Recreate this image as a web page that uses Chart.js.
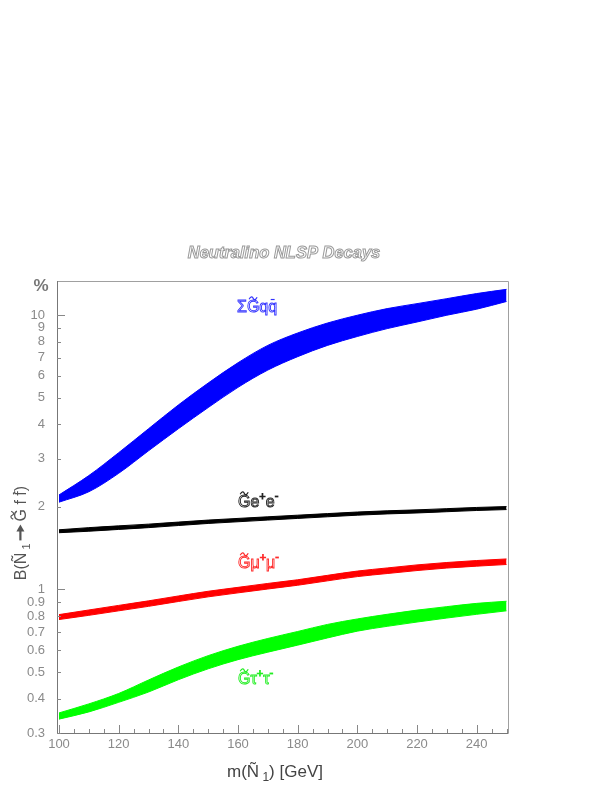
<!DOCTYPE html>
<html>
<head>
<meta charset="utf-8">
<script src="https://cdn.jsdelivr.net/npm/chart.js@4/dist/chart.umd.min.js"></script>
<style>
html,body{margin:0;padding:0;background:#fff;}
canvas{display:block;}
</style>
</head>
<body>
<canvas id="c" width="610" height="790"></canvas>
<script>
// ---- data ----
const massGeV = [100,110,120,130,140,150,160,170,180,190,200,210,220,230,240,250];
// Sum G~ q qbar band (lower / upper edge, %)
const qqLow  = [2.08,2.27,2.65,3.20,3.85,4.60,5.45,6.30,7.05,7.75,8.35,8.92,9.43,9.98,10.50,11.20];
const qqHigh = [2.21,2.60,3.15,3.85,4.70,5.65,6.70,7.75,8.60,9.35,9.98,10.55,11.00,11.47,11.97,12.40];
// G~ e+ e- band
const eeLow  = [1.61,1.63,1.655,1.68,1.71,1.74,1.765,1.79,1.815,1.84,1.865,1.885,1.90,1.92,1.94,1.955];
const eeHigh = [1.65,1.68,1.705,1.73,1.76,1.79,1.815,1.84,1.865,1.89,1.915,1.935,1.95,1.97,1.99,2.005];
// G~ mu+ mu- band
const mmLow  = [0.777,0.805,0.836,0.868,0.904,0.940,0.972,1.004,1.036,1.075,1.114,1.143,1.172,1.197,1.216,1.233];
const mmHigh = [0.810,0.842,0.875,0.909,0.947,0.985,1.018,1.052,1.085,1.126,1.167,1.198,1.229,1.254,1.275,1.292];
// G~ tau+ tau- band
const ttLow  = [0.337,0.358,0.388,0.423,0.469,0.514,0.555,0.591,0.627,0.666,0.705,0.734,0.761,0.787,0.812,0.836];
const ttHigh = [0.355,0.383,0.418,0.468,0.522,0.574,0.621,0.663,0.703,0.746,0.781,0.812,0.841,0.866,0.890,0.906];

// ---- ticks ----
const xTickLabels = [100,120,140,160,180,200,220,240];
const xMinorTicks = [100,105,110,115,120,125,130,135,140,145,150,155,160,165,170,175,180,185,190,195,200,205,210,215,220,225,230,235,240,245,250];
const yTickLabels = [0.3,0.4,0.5,0.6,0.7,0.8,0.9,1,2,3,4,5,6,7,8,9,10];
const yMajorTicks = [1,10];

const FAM = "'Liberation Sans', Arial, 'DejaVu Sans', sans-serif";

function pts(xs, ys){ return xs.map((x,i)=>({x:x, y:ys[i]})); }
function band(low, high, color){
  const common = {borderColor:color, borderWidth:1, pointRadius:0, cubicInterpolationMode:'monotone'};
  return [
    Object.assign({data:pts(massGeV, low), fill:false}, common),
    Object.assign({data:pts(massGeV, high), fill:'-1', backgroundColor:color}, common)
  ];
}

// rich text: parts = [{t, s (size), dy, deco}]
function rich(ctx, x, y, parts, o){
  const style = o.style || '';
  let total = 0;
  const ws = parts.map(p=>{
    if (p.deco === 'arrow') { total += p.w; return p.w; }
    ctx.font = `${style} ${p.s}px ${FAM}`; const w = ctx.measureText(p.t).width; total += w; return w; });
  if (o.align === 'center') x -= total/2;
  ctx.textAlign = 'left'; ctx.textBaseline = 'alphabetic';
  parts.forEach((p,i)=>{
    const yy = y + (p.dy||0);
    if (p.deco === 'arrow'){
      const ay = yy - p.s*0.35, x0 = x + 3, x1 = x + p.w - 3;
      ctx.strokeStyle = o.color; ctx.fillStyle = o.color; ctx.lineWidth = 2.2;
      ctx.beginPath(); ctx.moveTo(x0, ay); ctx.lineTo(x1-5, ay); ctx.stroke();
      ctx.beginPath(); ctx.moveTo(x1, ay); ctx.lineTo(x1-7, ay-4); ctx.lineTo(x1-7, ay+4); ctx.closePath(); ctx.fill();
      x += ws[i];
      return;
    }
    ctx.font = `${style} ${p.s}px ${FAM}`;
    if (o.stroke){ ctx.strokeStyle = o.color; ctx.lineWidth = o.lw || 1; ctx.strokeText(p.t, x, yy); }
    else { ctx.fillStyle = o.color; ctx.fillText(p.t, x, yy); }
    if (p.deco === 'tilde'){
      const w = ws[i]; const cx = x + w/2; const ty = yy - p.s*0.86; const hw = w*0.32;
      ctx.beginPath(); ctx.strokeStyle = o.color; ctx.lineWidth = 1.2;
      ctx.moveTo(cx-hw, ty+1);
      ctx.bezierCurveTo(cx-hw*0.5, ty-3, cx-hw*0.1, ty-1, cx, ty);
      ctx.bezierCurveTo(cx+hw*0.1, ty+1, cx+hw*0.5, ty+3, cx+hw, ty-1);
      ctx.stroke();
    } else if (p.deco === 'bar'){
      const w = ws[i]; const cx = x + w/2; const by = yy - p.s*0.78;
      ctx.beginPath(); ctx.strokeStyle = o.color; ctx.lineWidth = 1.2;
      ctx.moveTo(cx - w*0.22, by); ctx.lineTo(cx + w*0.22, by); ctx.stroke();
    }
    x += ws[i];
  });
}

const decor = {
  id:'decor',
  afterDraw(chart){
    const ctx = chart.ctx, a = chart.chartArea, xs = chart.scales.x, ys = chart.scales.y;
    ctx.save();
    // frame
    ctx.lineWidth = 1;
    ctx.strokeStyle = '#a0a0a0';
    ctx.beginPath();
    ctx.moveTo(a.left, a.top+0.5); ctx.lineTo(a.right+0.5, a.top+0.5); ctx.lineTo(a.right+0.5, a.bottom);
    ctx.stroke();
    ctx.strokeStyle = '#777';
    ctx.beginPath();
    ctx.moveTo(a.left+0.5, a.top); ctx.lineTo(a.left+0.5, a.bottom+0.5); ctx.lineTo(a.right+0.5, a.bottom+0.5);
    ctx.stroke();
    // ticks
    ctx.strokeStyle = '#888';
    ctx.beginPath();
    xMinorTicks.forEach(v=>{
      const px = Math.round(xs.getPixelForValue(v))+0.5;
      const len = xTickLabels.includes(v) ? 8 : 4;
      ctx.moveTo(px, a.bottom); ctx.lineTo(px, a.bottom - len);
    });
    yTickLabels.forEach(v=>{
      const py = Math.round(ys.getPixelForValue(v))+0.5;
      const len = yMajorTicks.includes(v) ? 8 : 4;
      ctx.moveTo(a.left, py); ctx.lineTo(a.left + len, py);
    });
    ctx.stroke();

    // title
    rich(ctx, 284, 258, [{t:'Neutralino NLSP Decays', s:16.5}], {align:'center', stroke:true, color:'#9a9a9a', style:'italic bold', lw:1});
    // percent sign
    rich(ctx, 41, 291, [{t:'%', s:17}], {align:'center', color:'#777', style:'bold'});

    // series labels (hollow text)
    rich(ctx, 237, 312, [{t:'Σ',s:16},{t:'G',s:16,deco:'tilde'},{t:'q',s:16},{t:'q',s:16,deco:'bar'}], {stroke:true, color:'#3333ff', lw:0.9});
    rich(ctx, 238, 507, [{t:'G',s:16,deco:'tilde'},{t:'e',s:16},{t:'+',s:11,dy:-7},{t:'e',s:16},{t:'-',s:11,dy:-8}], {stroke:true, color:'#222', lw:0.9});
    rich(ctx, 238, 568, [{t:'G',s:16,deco:'tilde'},{t:'μ',s:16},{t:'+',s:11,dy:-7},{t:'μ',s:16},{t:'-',s:11,dy:-8}], {stroke:true, color:'#ff2a2a', lw:0.9});
    rich(ctx, 238, 684, [{t:'G',s:16,deco:'tilde'},{t:'τ',s:16},{t:'+',s:11,dy:-7},{t:'τ',s:16},{t:'-',s:11,dy:-8}], {stroke:true, color:'#22ee22', lw:0.9});

    // x axis title
    rich(ctx, 227, 777, [{t:'m(Ñ',s:17},{t:' 1',s:12,dy:4},{t:') [GeV]',s:17}], {color:'#444'});
    // y axis title (rotated)
    ctx.save();
    ctx.translate(26, 533);
    ctx.rotate(-Math.PI/2);
    rich(ctx, 0, 0, [{t:'B(Ñ',s:16},{t:' 1',s:11,dy:4},{t:'',s:16,w:22,deco:'arrow'},{t:'G',s:16,deco:'tilde'},{t:' f ',s:16},{t:'f',s:16,deco:'bar'},{t:')',s:16}], {align:'center', color:'#555'});
    ctx.restore();
    ctx.restore();
  }
};

new Chart(document.getElementById('c'), {
  type:'line',
  data:{datasets:[
    ...band(qqLow, qqHigh, '#0000ff'),
    ...band(eeLow, eeHigh, '#000000'),
    ...band(mmLow, mmHigh, '#ff0000'),
    ...band(ttLow, ttHigh, '#00ff00')
  ]},
  options:{
    responsive:false, animation:false, devicePixelRatio:1,
    layout:{padding:{top:281, right:102, left:0, bottom:0}},
    plugins:{legend:{display:false}, tooltip:{enabled:false}, title:{display:false}},
    scales:{
      x:{
        type:'linear', min:99.33, max:250.5,
        grid:{display:false, drawTicks:false}, border:{display:false},
        ticks:{color:'#8a8a8a', font:{family:FAM, size:13}, padding:4, maxRotation:0, autoSkip:false,
               callback:v=>String(v)},
        afterBuildTicks:s=>{ s.ticks = xTickLabels.map(v=>({value:v})); },
        afterFit:s=>{ s.height = 57; }
      },
      y:{
        type:'logarithmic', min:0.3, max:13.3,
        grid:{display:false, drawTicks:false}, border:{display:false},
        ticks:{color:'#8a8a8a', font:{family:FAM, size:13}, padding:12, autoSkip:false,
               callback:v=>String(v)},
        afterBuildTicks:s=>{ s.ticks = yTickLabels.map(v=>({value:v})); },
        afterFit:s=>{ s.width = 57; }
      }
    }
  },
  plugins:[decor]
});
</script>
</body>
</html>
